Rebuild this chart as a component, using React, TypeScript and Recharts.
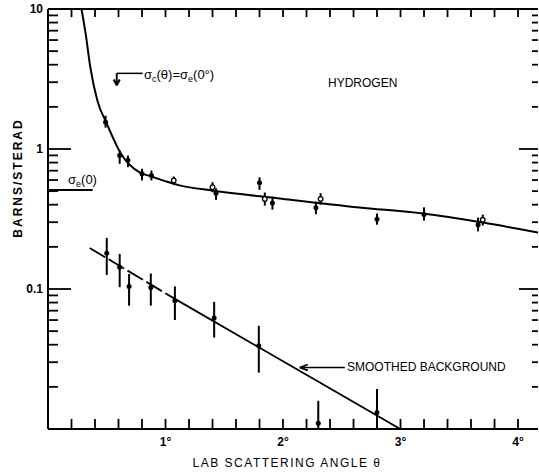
import React from 'react';
import { ComposedChart, Line, XAxis, YAxis, ReferenceLine, Customized } from 'recharts';

const FONT = '"Liberation Sans", Arial, sans-serif';

// Fitted hydrogen curve
const curveTheta = [0.285, 0.32, 0.36, 0.42, 0.5, 0.62, 0.78, 0.88, 1.0, 1.12, 1.4, 1.97, 2.65, 3.19, 3.7, 4.17];
const curveValue = [10, 6.7, 3.85, 2.22, 1.52, 0.93, 0.68, 0.636, 0.588, 0.55, 0.505, 0.443, 0.382, 0.346, 0.298, 0.253];

// Hydrogen measured points
const hTheta = [0.49, 0.61, 0.68, 0.8, 0.88, 1.07, 1.4, 1.43, 1.8, 1.845, 1.91, 2.28, 2.32, 2.8, 3.2, 3.66, 3.7];
const hValue = [1.55, 0.9, 0.83, 0.665, 0.646, 0.596, 0.533, 0.483, 0.573, 0.44, 0.412, 0.38, 0.44, 0.315, 0.34, 0.288, 0.312];
const hHigh = [1.73, 0.976, 0.899, 0.722, 0.702, 0.636, 0.579, 0.524, 0.628, 0.489, 0.457, 0.421, 0.483, 0.346, 0.383, 0.324, 0.34];
const hLow = [1.42, 0.784, 0.741, 0.596, 0.596, 0.557, 0.491, 0.433, 0.511, 0.394, 0.369, 0.342, 0.401, 0.288, 0.308, 0.258, 0.284];
const hOpen = [false, false, false, false, false, true, true, false, false, true, false, false, true, false, false, false, true];

// Background points
const bTheta = [0.5, 0.61, 0.69, 0.875, 1.08, 1.414, 1.794, 2.3, 2.8];
const bValue = [0.18, 0.143, 0.104, 0.1026, 0.0825, 0.062, 0.0393, 0.011, 0.0131];
const bHigh = [0.232, 0.178, 0.128, 0.129, 0.1044, 0.081, 0.0546, 0.0159, 0.0193];
const bLow = [0.126, 0.103, 0.076, 0.076, 0.06, 0.045, 0.0253, 0.01, 0.01];

// Smoothed background line
const bgDashTheta = [0.355, 1.08];
const bgDashValue = [0.196, 0.085];
const bgSolidTheta = [1.08, 2.998];
const bgSolidValue = [0.085, 0.01];

// Axis range and ticks
const xMin = 0;
const xMax = 4.17;
const yMin = 0.01;
const yMax = 10;
const xLabelTicks = [1, 2, 3, 4];
const yLabelTicks = [0.1, 1, 10];
const xTicks = [0.2, 0.4, 0.6, 0.8, 1, 1.2, 1.4, 1.6, 1.8, 2, 2.2, 2.4, 2.6, 2.8, 3, 3.2, 3.4, 3.6, 3.8, 4];
const yTicks = [
  0.02, 0.03, 0.04, 0.05, 0.06, 0.07, 0.08, 0.09, 0.1,
  0.2, 0.3, 0.4, 0.5, 0.6, 0.7, 0.8, 0.9, 1,
  2, 3, 4, 5, 6, 7, 8, 9,
];
const yMajor = [1, 0.1];

// Tick mark lengths (degrees along x, decades along y)
const leftMinorLen = 0.085;
const leftMajorLen = 0.196;
const rightMinorLen = 0.051;
const rightMajorLen = 0.162;
const bottomTickDecades = 0.072;
const topTickDecades = 0.058;

// Annotation values
const sigmaE0 = 0.51;
const sigmaE0End = 0.38;
const crossTheta = 0.585;
const crossTop = 3.47;
const crossBottom = 2.85;
const crossHeadY = 3.14;
const crossHeadHalf = 0.026;
const crossLineEnd = 0.806;
const bgArrowY = 0.0275;
const bgArrowStart = 2.143;
const bgArrowEnd = 2.526;
const bgHeadX = 2.211;
const bgHeadUp = 0.0289;
const bgHeadDown = 0.0262;

const curveData = curveTheta.map((x, i) => ({ x, y: curveValue[i] }));
const hData = hTheta.map((x, i) => ({ x, y: hValue[i], open: hOpen[i] }));
const bData = bTheta.map((x, i) => ({ x, y: bValue[i], open: false }));
const bgDash = bgDashTheta.map((x, i) => ({ x, y: bgDashValue[i] }));
const bgSolid = bgSolidTheta.map((x, i) => ({ x, y: bgSolidValue[i] }));

const Texts = () => (
  <g fontFamily={FONT} fill="#000">
    <text x={328} y={87} fontSize={12}>HYDROGEN</text>
    <text x={347} y={371} fontSize={12}>SMOOTHED BACKGROUND</text>
    <text x={287} y={467} fontSize={12} textAnchor="middle" letterSpacing={1.5}>LAB  SCATTERING  ANGLE  θ</text>
    <text
      x={0}
      y={0}
      transform="translate(22,178) rotate(-90)"
      fontSize={12}
      fontWeight="bold"
      textAnchor="middle"
      letterSpacing={2}
    >
      BARNS/STERAD
    </text>
    <text x={68} y={184} fontSize={13}>
      σ<tspan dy={3} fontSize={9}>e</tspan>
      <tspan dy={-3}>(0)</tspan>
    </text>
    <text x={144} y={79} fontSize={13}>
      σ<tspan dy={3} fontSize={9}>c</tspan>
      <tspan dy={-3}>(θ)=σ</tspan>
      <tspan dy={3} fontSize={9}>e</tspan>
      <tspan dy={-3}>(0°)</tspan>
    </text>
  </g>
);

const dotShape = (p: any) => {
  const open = p.payload && p.payload.open;
  return open ? (
    <circle key={`d${p.index}`} cx={p.cx} cy={p.cy} r={2.3} fill="#fff" stroke="#000" strokeWidth={1.3} />
  ) : (
    <circle key={`d${p.index}`} cx={p.cx} cy={p.cy} r={2.5} fill="#000" stroke="none" />
  );
};

const axisText = { fontFamily: FONT, fontSize: 12, fontWeight: 'bold', fill: '#000' };

export default function App() {
  return (
    <div style={{ position: 'absolute', left: 0, top: 0 }}>
      <ComposedChart width={539} height={473} margin={{ top: 9, right: 1, left: 0, bottom: 0 }}>
        <XAxis
          dataKey="x"
          type="number"
          domain={[xMin, xMax]}
          allowDataOverflow
          ticks={xLabelTicks}
          height={44}
          tickSize={0}
          tickMargin={8}
          tickLine={false}
          axisLine={false}
          tickFormatter={(v: number) => `${v}°`}
          tick={axisText}
        />
        <YAxis
          dataKey="y"
          scale="log"
          domain={[yMin, yMax]}
          allowDataOverflow
          ticks={yLabelTicks}
          width={48}
          tickSize={0}
          tickMargin={5}
          tickLine={false}
          axisLine={false}
          tickFormatter={(v: number) => String(v)}
          tick={axisText}
        />
        <Customized component={Texts} />
        <Line data={curveData} dataKey="y" type="monotone" stroke="#000" strokeWidth={2} fill="none" dot={false} activeDot={false} isAnimationActive={false} />
        <Line data={bgDash} dataKey="y" type="linear" stroke="#000" strokeWidth={1.8} fill="none" strokeDasharray="18 4" dot={false} activeDot={false} isAnimationActive={false} />
        <Line data={bgSolid} dataKey="y" type="linear" stroke="#000" strokeWidth={1.8} fill="none" dot={false} activeDot={false} isAnimationActive={false} />
        {/* frame */}
        <ReferenceLine segment={[{ x: xMin, y: yMin }, { x: xMin, y: yMax }]} stroke="#000" strokeWidth={2} ifOverflow="visible" />
        <ReferenceLine segment={[{ x: xMin, y: yMax }, { x: xMax, y: yMax }]} stroke="#000" strokeWidth={2} ifOverflow="visible" />
        <ReferenceLine segment={[{ x: xMin, y: yMin }, { x: xMax, y: yMin }]} stroke="#000" strokeWidth={2} ifOverflow="visible" />
        {/* tick marks */}
        {yTicks.map((v) => (
          <ReferenceLine
            key={`l${v}`}
            segment={[{ x: xMin, y: v }, { x: xMin + (yMajor.indexOf(v) >= 0 ? leftMajorLen : leftMinorLen), y: v }]}
            stroke="#000"
            strokeWidth={1.8}
          />
        ))}
        {yTicks.map((v) => (
          <ReferenceLine
            key={`r${v}`}
            segment={[{ x: xMax - (yMajor.indexOf(v) >= 0 ? rightMajorLen : rightMinorLen), y: v }, { x: xMax, y: v }]}
            stroke="#000"
            strokeWidth={1.8}
          />
        ))}
        {xTicks.map((t) => (
          <ReferenceLine
            key={`b${t}`}
            segment={[{ x: t, y: yMin }, { x: t, y: yMin * Math.pow(10, bottomTickDecades) }]}
            stroke="#000"
            strokeWidth={1.8}
            ifOverflow="visible"
          />
        ))}
        {xTicks.map((t) => (
          <ReferenceLine
            key={`t${t}`}
            segment={[{ x: t, y: yMax }, { x: t, y: yMax / Math.pow(10, topTickDecades) }]}
            stroke="#000"
            strokeWidth={1.8}
            ifOverflow="visible"
          />
        ))}
        {/* error bars */}
        {hTheta.map((t, i) => (
          <ReferenceLine key={`he${i}`} segment={[{ x: t, y: hLow[i] }, { x: t, y: hHigh[i] }]} stroke="#000" strokeWidth={2} ifOverflow="visible" />
        ))}
        {bTheta.map((t, i) => (
          <ReferenceLine key={`be${i}`} segment={[{ x: t, y: bLow[i] }, { x: t, y: bHigh[i] }]} stroke="#000" strokeWidth={2} ifOverflow="visible" />
        ))}
        {/* annotations */}
        <ReferenceLine segment={[{ x: xMin, y: sigmaE0 }, { x: sigmaE0End, y: sigmaE0 }]} stroke="#000" strokeWidth={2} />
        <ReferenceLine segment={[{ x: crossTheta, y: crossTop }, { x: crossLineEnd, y: crossTop }]} stroke="#000" strokeWidth={1.5} />
        <ReferenceLine segment={[{ x: crossTheta, y: crossTop }, { x: crossTheta, y: crossBottom }]} stroke="#000" strokeWidth={2} />
        <ReferenceLine segment={[{ x: crossTheta - crossHeadHalf, y: crossHeadY }, { x: crossTheta, y: crossBottom }]} stroke="#000" strokeWidth={2} />
        <ReferenceLine segment={[{ x: crossTheta + crossHeadHalf, y: crossHeadY }, { x: crossTheta, y: crossBottom }]} stroke="#000" strokeWidth={2} />
        <ReferenceLine segment={[{ x: bgArrowStart, y: bgArrowY }, { x: bgArrowEnd, y: bgArrowY }]} stroke="#000" strokeWidth={1.5} />
        <ReferenceLine segment={[{ x: bgHeadX, y: bgHeadUp }, { x: bgArrowStart, y: bgArrowY }]} stroke="#000" strokeWidth={1.8} />
        <ReferenceLine segment={[{ x: bgHeadX, y: bgHeadDown }, { x: bgArrowStart, y: bgArrowY }]} stroke="#000" strokeWidth={1.8} />
        {/* data points */}
        <Line data={hData} dataKey="y" stroke="none" fill="none" dot={dotShape} activeDot={false} isAnimationActive={false} />
        <Line data={bData} dataKey="y" stroke="none" fill="none" dot={dotShape} activeDot={false} isAnimationActive={false} />
      </ComposedChart>
    </div>
  );
}
